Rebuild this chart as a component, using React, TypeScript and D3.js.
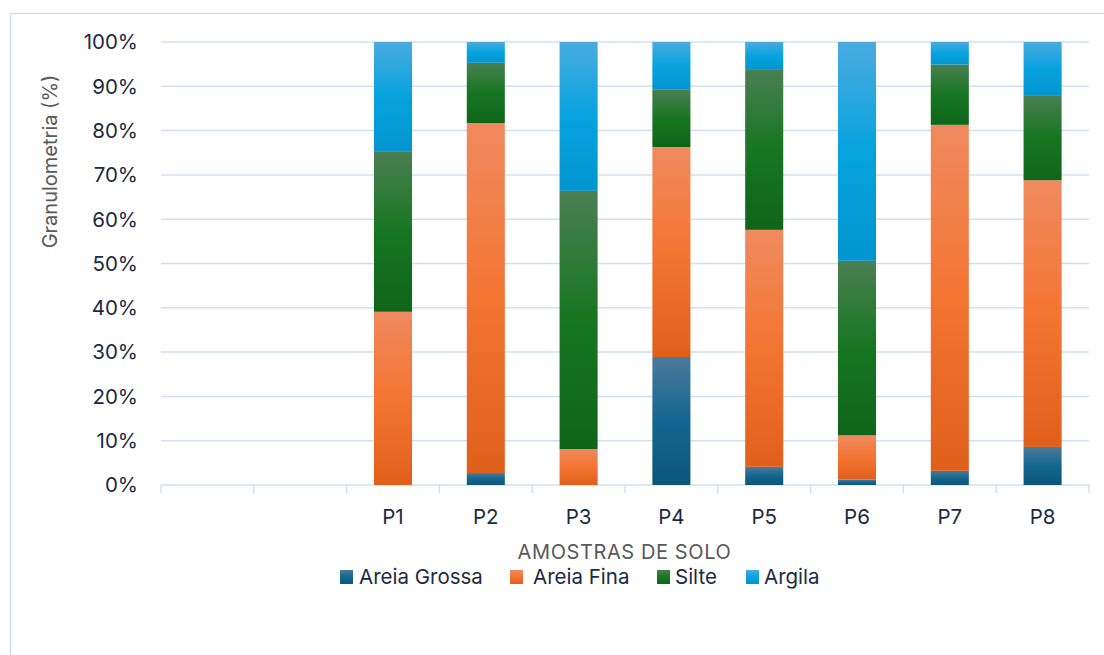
import React from "react";
import * as d3 from "d3";

const categories = ["", "", "P1", "P2", "P3", "P4", "P5", "P6", "P7", "P8"];
const seriesNames = ["Areia Grossa", "Areia Fina", "Silte", "Argila"];
const areiaGrossa = [0, 0, 0, 2.7, 0, 28.9, 4.1, 1.2, 3.2, 8.6];
const areiaFina = [0, 0, 39.1, 79.0, 8.1, 47.4, 53.5, 10.0, 78.1, 60.2];
const silte = [0, 0, 36.1, 13.6, 58.3, 12.9, 36.1, 39.4, 13.6, 19.2];
const argila = [0, 0, 24.8, 4.7, 33.6, 10.8, 6.3, 49.4, 5.1, 12.0];
const yTicks = [0, 10, 20, 30, 40, 50, 60, 70, 80, 90, 100];

const gradients = [
  ["#4b7a9c", "#13668f", "#0b5679"],
  ["#f08a5f", "#f47432", "#e05f1b"],
  ["#4a7f52", "#167621", "#0f6519"],
  ["#4aabdf", "#06a3de", "#0295cf"],
];

const W = 1104;
const H = 655;
const left = 161;
const right = 1089;
const top = 42;
const bottom = 485;
const font = "Inter, 'Open Sans', 'DejaVu Sans', sans-serif";

export default function App() {
  const keys = categories.map((_, i) => String(i));
  const x = d3.scaleBand<string>().domain(keys).range([left, right]).paddingInner(0.59).paddingOuter(0.295);
  const y = d3.scaleLinear().domain([0, 100]).range([bottom, top]);
  const rows = categories.map((c, i) => ({
    key: String(i),
    s0: areiaGrossa[i],
    s1: areiaFina[i],
    s2: silte[i],
    s3: argila[i],
  }));
  const stack = d3.stack<any>().keys(["s0", "s1", "s2", "s3"])(rows);
  const step = x.step();
  const boundaries = d3.range(categories.length + 1).map((i) => left + i * step);

  const legendItems = [
    { sq: 340, tx: 359 },
    { sq: 510, tx: 533 },
    { sq: 657, tx: 675 },
    { sq: 746, tx: 764 },
  ];

  return (
    <div style={{ position: "fixed", left: 0, top: 0, width: W, height: H, background: "#fff" }}>
      <svg width={W} height={H} style={{ display: "block" }}>
        <defs>
          {gradients.map((g, i) => (
            <linearGradient key={i} id={`grad${i}`} x1="0" y1="0" x2="0" y2="1">
              <stop offset="0%" stopColor={g[0]} />
              <stop offset="50%" stopColor={g[1]} />
              <stop offset="100%" stopColor={g[2]} />
            </linearGradient>
          ))}
        </defs>
        <rect x={10.5} y={13.5} width={W + 20} height={H + 20} fill="#fff" stroke="#cfdff3" strokeWidth={1.5} />
        {yTicks.map((t) => (
          <g key={t}>
            <line x1={left} x2={right} y1={y(t)} y2={y(t)} stroke="#d0e0f2" strokeWidth={1.5} />
            <text x={138} y={y(t)} dy="0.36em" textAnchor="end" fontFamily={font} fontSize={20.5} fill="#1b2a41">
              {t}%
            </text>
          </g>
        ))}
        {boundaries.map((b, i) => (
          <line key={i} x1={b} x2={b} y1={bottom} y2={bottom + 8} stroke="#d0e0f2" strokeWidth={1.5} />
        ))}
        {stack.map((layer, si) => (
          <g key={si}>
            {layer.map((d: any, ci: number) =>
              d[1] - d[0] > 0 ? (
                <rect
                  key={ci}
                  x={x(d.data.key)}
                  width={x.bandwidth()}
                  y={y(d[1])}
                  height={y(d[0]) - y(d[1])}
                  fill={`url(#grad${si})`}
                />
              ) : null
            )}
          </g>
        ))}
        {categories.map((c, i) => (
          <text
            key={i}
            x={(x(String(i)) as number) + x.bandwidth() / 2}
            y={517}
            dy="0.36em"
            textAnchor="middle"
            fontFamily={font}
            fontSize={20.5}
            fill="#1b2a41"
          >
            {c}
          </text>
        ))}
        <text
          x={624.5}
          y={551.5}
          dy="0.36em"
          textAnchor="middle"
          fontFamily={font}
          fontSize={20}
          letterSpacing={0.6}
          fill="#595959"
        >
          AMOSTRAS DE SOLO
        </text>
        <text
          transform={`translate(50,161.5) rotate(-90)`}
          dy="0.36em"
          textAnchor="middle"
          fontFamily={font}
          fontSize={20}
          fill="#595959"
        >
          Granulometria (%)
        </text>
        {seriesNames.map((n, i) => (
          <g key={n}>
            <rect x={legendItems[i].sq} y={570} width={13} height={14} fill={`url(#grad${i})`} />
            <text x={legendItems[i].tx} y={577} dy="0.36em" fontFamily={font} fontSize={20.5} fill="#1b2a41">
              {n}
            </text>
          </g>
        ))}
      </svg>
    </div>
  );
}
